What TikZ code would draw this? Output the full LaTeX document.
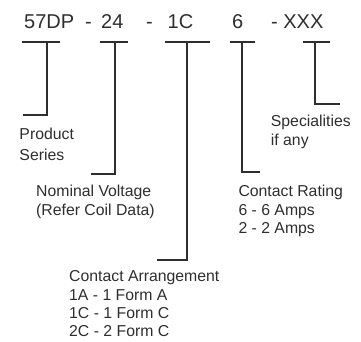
\documentclass[tikz,border=0pt]{standalone}
\usepackage{fontspec}
\setmainfont{Liberation Sans}
\definecolor{ink}{HTML}{2E2E2E}
\begin{document}
\begin{tikzpicture}[x=1pt,y=-1pt,
  code/.style={inner sep=0pt,anchor=base west,text=ink,font=\fontsize{20}{24}\selectfont},
  lbl/.style={inner sep=0pt,anchor=base west,align=left,text=ink,font=\fontsize{15.8}{18.3}\selectfont},
  brk/.style={draw=ink,line width=1.1pt}]
\useasboundingbox (0,0) rectangle (361,341);
% top code
\node[code] (p1) at (24,28) {57DP};
\node[code] (d1) at (85,28) {-};
\node[code] (p2) at (101,28) {24};
\node[code] (d2) at (146,28) {-};
\node[code] (p3) at (167.5,28) {1C};
\node[code] (p4) at (232,28) {6};
\node[code] (p5) at (271,28) {- XXX};
% labels (anchored at the baseline of their last line)
\node[lbl,font=\fontsize{15.8}{20.8}\selectfont] (l1) at (19.3,160.3) {Product\\Series};
\node[lbl] (l2) at (36,215) {Nominal Voltage\\(Refer Coil Data)};
\node[lbl] (l3) at (69,336.6) {Contact Arrangement\\1A - 1 Form A\\1C - 1 Form C\\2C - 2 Form C};
\node[lbl] (l4) at (238.3,233.3) {Contact Rating\\6 - 6 Amps\\2 - 2 Amps};
\node[lbl] (l5) at (270.7,145) {Specialities\\if any};
% bracket coordinates
\coordinate (a1) at (22,42);  \coordinate (b1) at (60,42);  \coordinate (m1) at (47,42);  \coordinate (e1) at (23,115);
\coordinate (a2) at (100,42); \coordinate (b2) at (128,42); \coordinate (m2) at (115,42); \coordinate (e2) at (91,174);
\coordinate (a3) at (165,42); \coordinate (b3) at (210,42); \coordinate (m3) at (187,42); \coordinate (e3) at (157,260);
\coordinate (a4) at (230,42); \coordinate (b4) at (255,42); \coordinate (m4) at (242,42); \coordinate (e4) at (260,172);
\coordinate (a5) at (303,42); \coordinate (b5) at (330,42); \coordinate (m5) at (315,42); \coordinate (e5) at (340,104);
\foreach \i in {1,...,5}{
  \draw[brk] (a\i) -- (b\i);
  \draw[brk] (m\i) |- (e\i);
}
\end{tikzpicture}
\end{document}
